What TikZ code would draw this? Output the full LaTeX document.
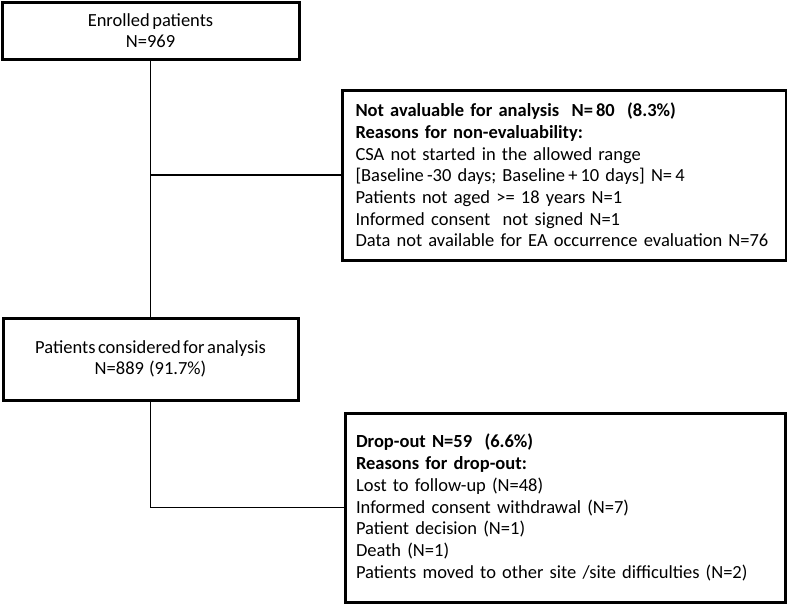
\documentclass[tikz,border=0pt]{standalone}
\usepackage{fontspec}
\setmainfont{Carlito}[WordSpace={0.6,0.3,0.3}]
\begin{document}
\begin{tikzpicture}[x=1pt,y=-1pt,
  box/.style={draw,line width=3pt,rectangle,outer sep=0pt,inner ysep=0pt,
    font=\fontsize{18.5}{21.7}\selectfont},
  cbox/.style={box,align=center},
  lbox/.style={box,align=left},
  conn/.style={draw,line width=1.5pt}]
\useasboundingbox (0,0) rectangle (787,606);
\node[cbox,minimum width=297pt,minimum height=57pt] (enr) at (150.5,30.5)
  {Enrolled patients\\N=969};
\node[cbox,minimum width=295pt,minimum height=82pt] (cons) at (150.5,359)
  {Patients considered for analysis\\N=889~~(91.7\%)};
\node[lbox,minimum width=437pt,minimum height=170pt,inner xsep=13pt,text width=418pt] (nev) at (564.5,175)
  {\textbf{Not avaluable for analysis~~N=\,80~~(8.3\%)}\\
   \textbf{Reasons for non-evaluability:}\\
   CSA not started in the allowed range\\
   {[}Baseline\,-30 days; Baseline\,+\,10 days] N=\,4\\
   Patients not aged >= 18 years N=1\\
   Informed consent~ not signed N=1\\
   Data not available for EA occurrence evaluation N=76};
\node[lbox,minimum width=436pt,minimum height=189pt,inner xsep=11pt,text width=418pt] (drop) at (565,507.5)
  {\textbf{Drop-out N=59~~(6.6\%)}\\
   \textbf{Reasons for drop-out:}\\
   Lost to follow-up (N=48)\\
   Informed consent withdrawal (N=7)\\
   Patient decision (N=1)\\
   Death (N=1)\\
   Patients moved to other site /site difficulties (N=2)};
\coordinate (j1) at (enr.south |- nev.west);
\coordinate (j2) at (cons.south |- drop.west);
\draw[conn] (enr.south) -- (cons.north);
\draw[conn] (j1) -- (nev.west);
\draw[conn] (cons.south) -- (j2) -- (drop.west);
\end{tikzpicture}
\end{document}
